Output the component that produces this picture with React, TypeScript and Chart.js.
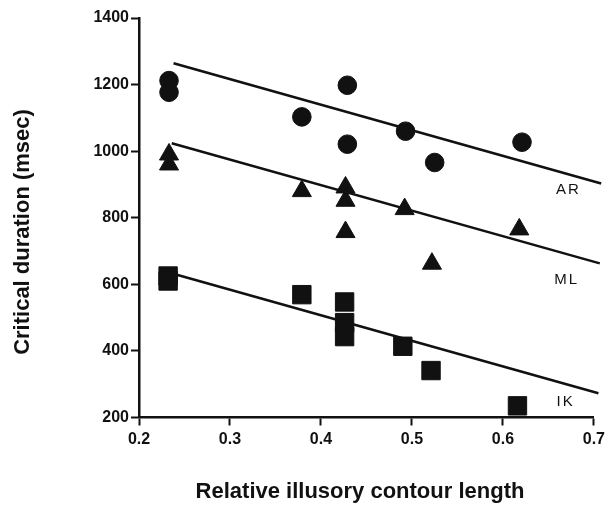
import React, { useEffect, useRef } from 'react';
import { Chart, registerables } from 'chart.js';

Chart.register(...registerables);

// Axis ticks
const xTickValues = [0.2, 0.3, 0.4, 0.5, 0.6, 0.7];
const yTickValues = [200, 400, 600, 800, 1000, 1200, 1400];

// Observer AR (circles)
const arX = [0.233, 0.233, 0.379, 0.429, 0.429, 0.493, 0.525, 0.621];
const arY = [1212, 1177, 1103, 1021, 1198, 1060, 966, 1027];

// Observer ML (triangles)
const mlX = [0.233, 0.233, 0.379, 0.427, 0.427, 0.427, 0.492, 0.522, 0.618];
const mlY = [990, 960, 880, 891, 851, 757, 826, 662, 765];

// Observer IK (squares)
const ikX = [0.232, 0.232, 0.379, 0.426, 0.426, 0.426, 0.490, 0.521, 0.616];
const ikY = [625, 610, 569, 547, 485, 443, 414, 341, 235];

// Regression lines (end points)
const arFitX = [0.238, 0.708];
const arFitY = [1264, 903];
const mlFitX = [0.236, 0.7065];
const mlFitY = [1024, 663];
const ikFitX = [0.2425, 0.705];
const ikFitY = [628, 273];

// Series labels
const seriesNames = ['AR', 'ML', 'IK'];
const seriesLabelX = [0.672, 0.670, 0.669];
const seriesLabelY = [883, 613, 247];

const xTitle = 'Relative illusory contour length';
const yTitle = 'Critical duration (msec)';

const INK = '#111';
const FONT = '"Liberation Sans", Arial, Helvetica, sans-serif';

const pts = (xs: number[], ys: number[]) => xs.map((x, i) => ({ x, y: ys[i] }));

const annotPlugin = {
  id: 'annot',
  afterDraw(chart: any) {
    const { ctx, scales } = chart;
    const xs = scales.x;
    const ys = scales.y;
    ctx.save();
    ctx.fillStyle = INK;
    ctx.textAlign = 'center';
    ctx.textBaseline = 'middle';
    // series labels
    ctx.font = `15px ${FONT}`;
    try { (ctx as any).letterSpacing = '2px'; } catch (e) {}
    seriesNames.forEach((name, i) => {
      ctx.fillText(name, xs.getPixelForValue(seriesLabelX[i]), ys.getPixelForValue(seriesLabelY[i]));
    });
    try { (ctx as any).letterSpacing = '0px'; } catch (e) {}
    // axis titles
    ctx.font = `bold 22px ${FONT}`;
    ctx.fillText(xTitle, 360, 492);
    ctx.translate(23, 232);
    ctx.rotate(-Math.PI / 2);
    ctx.fillText(yTitle, 0, 0);
    ctx.restore();
  },
};

export default function App() {
  const ref = useRef<HTMLCanvasElement | null>(null);

  useEffect(() => {
    if (!ref.current) return;
    const lineDs = (xs: number[], ys: number[]) => ({
      type: 'line' as const,
      data: pts(xs, ys),
      borderColor: INK,
      borderWidth: 2.5,
      pointRadius: 0,
      fill: false,
      clip: false as any,
      tension: 0,
    });
    const scatterDs = (xs: number[], ys: number[], style: string, r: number) => ({
      type: 'scatter' as const,
      data: pts(xs, ys),
      pointStyle: style,
      pointRadius: r,
      pointBackgroundColor: INK,
      pointBorderColor: INK,
      pointBorderWidth: 1,
      showLine: false,
      clip: false as any,
    });
    const chart = new Chart(ref.current, {
      type: 'scatter',
      data: {
        datasets: [
          lineDs(arFitX, arFitY),
          lineDs(mlFitX, mlFitY),
          lineDs(ikFitX, ikFitY),
          scatterDs(arX, arY, 'circle', 9.3),
          scatterDs(mlX, mlY, 'triangle', 11),
          scatterDs(ikX, ikY, 'rect', 13),
        ] as any,
      },
      options: {
        responsive: false,
        animation: false,
        devicePixelRatio: 1,
        layout: { padding: { left: 0, top: 18, right: 10, bottom: 0 } },
        plugins: {
          legend: { display: false },
          tooltip: { enabled: false },
          title: { display: false },
        },
        scales: {
          x: {
            type: 'linear',
            min: 0.2,
            max: 0.7,
            afterBuildTicks: (s: any) => {
              s.ticks = xTickValues.map((v) => ({ value: v }));
            },
            afterFit: (s: any) => {
              s.height = 91.5;
            },
            ticks: {
              autoSkip: false,
              maxRotation: 0,
              padding: 4,
              color: INK,
              font: { family: FONT, size: 16, weight: 'bold' },
              callback: (v: any) => Number(v).toFixed(1),
            },
            grid: {
              display: true,
              drawOnChartArea: false,
              drawTicks: true,
              tickLength: 8,
              tickWidth: 2,
              tickColor: INK,
            },
            border: { display: true, color: INK, width: 2.5 },
          },
          y: {
            type: 'linear',
            min: 200,
            max: 1400,
            afterBuildTicks: (s: any) => {
              s.ticks = yTickValues.map((v) => ({ value: v }));
            },
            afterFit: (s: any) => {
              s.width = 139;
            },
            ticks: {
              autoSkip: false,
              padding: 2,
              color: INK,
              font: { family: FONT, size: 16, weight: 'bold' },
              callback: (v: any) => String(v),
            },
            grid: {
              display: true,
              drawOnChartArea: false,
              drawTicks: true,
              tickLength: 8,
              tickWidth: 2,
              tickColor: INK,
            },
            border: { display: true, color: INK, width: 2.5 },
          },
        },
      } as any,
      plugins: [annotPlugin],
    });
    return () => chart.destroy();
  }, []);

  return (
    <div style={{ position: 'absolute', left: 0, top: 0, width: 609, height: 509, background: '#fff' }}>
      <canvas ref={ref} width={609} height={509} style={{ width: 609, height: 509, display: 'block' }} />
    </div>
  );
}
